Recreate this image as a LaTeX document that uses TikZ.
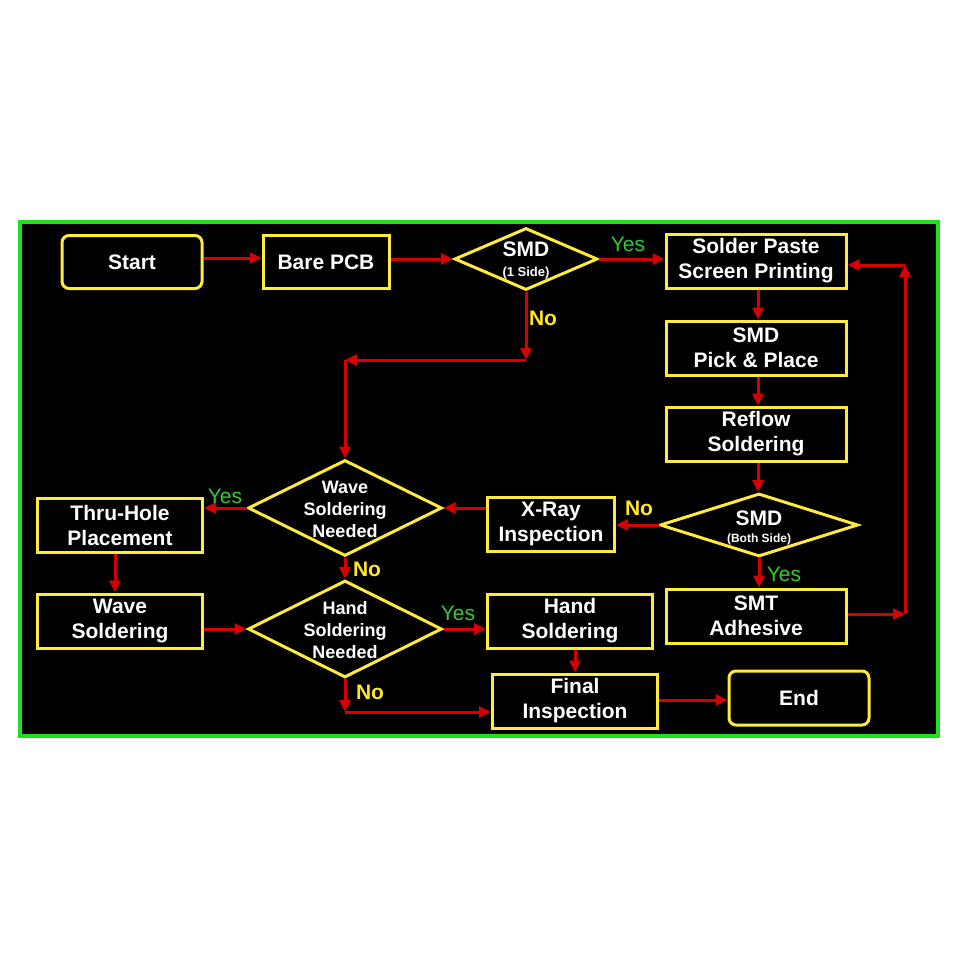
\documentclass[tikz,border=0pt]{standalone}
\usepackage{fontspec}
\setmainfont{Liberation Sans}
\usetikzlibrary{arrows.meta,shapes.geometric}
\definecolor{frameg}{RGB}{30,225,30}
\definecolor{boxy}{RGB}{255,235,60}
\definecolor{arrr}{RGB}{215,0,0}
\definecolor{yesg}{RGB}{50,205,50}
\definecolor{noy}{RGB}{255,230,40}
\tikzset{
  box/.style={draw=boxy, line width=3pt, fill=black, text=white, font=\fontsize{21}{25}\selectfont\bfseries, align=center, inner sep=0pt},
  rbox/.style={box, rounded corners=7pt},
  dia/.style={draw=boxy, line width=3pt, fill=black, diamond, inner sep=0pt},
  dtext/.style={text=white, font=\fontsize{18}{22}\selectfont\bfseries, align=center, inner sep=0pt},
  conn/.style={draw=arrr, line width=3pt, -{Triangle[length=12pt,width=11pt]}},
  yeslab/.style={text=yesg, font=\fontsize{21}{25}\selectfont, inner sep=0pt},
  nolab/.style={text=noy, font=\fontsize{21}{25}\selectfont\bfseries, inner sep=0pt}
}
\begin{document}
\begin{tikzpicture}[x=1pt,y=-1pt]
\useasboundingbox (0,0) rectangle (960,960);
\fill[white] (0,0) rectangle (960,960);
\draw[frameg, line width=4pt, fill=black] (20,222) rectangle (938,736);
% nodes
\node[rbox, minimum width=140pt, minimum height=53pt] (start) at (132,262) {Start};
\node[box, minimum width=126pt, minimum height=53pt] (bare) at (326,262) {Bare PCB};
\node[dia, minimum width=143pt, minimum height=62pt] (smd1) at (526,259) {};
\node[text=white, font=\fontsize{21}{25}\selectfont\bfseries, inner sep=0pt] (smd1t) at (526,249) {SMD};
\node[text=white, font=\fontsize{13}{15}\selectfont\bfseries, inner sep=0pt] (smd1s) at (526,273) {(1 Side)};
\node[box, minimum width=180pt, minimum height=54pt] (solder) at (756,261) {Solder Paste\\Screen Printing};
\node[box, minimum width=180pt, minimum height=54pt] (pick) at (756,348) {SMD\\Pick \& Place};
\node[box, minimum width=180pt, minimum height=54pt] (reflow) at (756,434) {Reflow\\Soldering};
\node[dia, minimum width=198pt, minimum height=63pt] (smd2) at (759,525) {};
\node[text=white, font=\fontsize{21}{25}\selectfont\bfseries, inner sep=0pt] (smd2t) at (759,518) {SMD};
\node[text=white, font=\fontsize{12}{14}\selectfont\bfseries, inner sep=0pt] (smd2s) at (759,539) {(Both Side)};
\node[box, minimum width=127pt, minimum height=54pt] (xray) at (551,524) {X-Ray\\Inspection};
\node[dia, minimum width=194pt, minimum height=96pt] (wsn) at (345,508) {};
\node[dtext] (wsnt) at (345,509) {Wave\\Soldering\\Needed};
\node[box, minimum width=165pt, minimum height=54pt] (thru) at (120,525) {Thru-Hole\\Placement};
\node[box, minimum width=165pt, minimum height=54pt] (wave) at (120,621) {Wave\\Soldering};
\node[dia, minimum width=194pt, minimum height=97pt] (hsn) at (345,629) {};
\node[dtext] (hsnt) at (345,630) {Hand\\Soldering\\Needed};
\node[box, minimum width=165pt, minimum height=54pt] (hand) at (570,621) {Hand\\Soldering};
\node[box, minimum width=180pt, minimum height=54pt] (smt) at (756,616) {SMT\\Adhesive};
\node[box, minimum width=165pt, minimum height=54pt] (final) at (575,701) {Final\\Inspection};
\node[rbox, minimum width=140pt, minimum height=54pt] (end) at (799,698) {End};
% coordinates
\coordinate (c1) at (345,712);
\coordinate (c2) at (905,614);
\coordinate (c3) at (905,265);
\coordinate (c4) at (526,360);
\coordinate (c5) at (345,360);
% connectors
\draw[conn] ([yshift=4pt]start.east) -- ([yshift=4pt]bare.west);
\draw[conn] ([yshift=3pt]bare.east) -- (smd1.west);
\draw[conn] (smd1.east) -- (solder.west |- smd1.east);
\draw[conn] ([xshift=2pt]solder.south) -- ([xshift=2pt]pick.north);
\draw[conn] ([xshift=2pt]pick.south) -- ([xshift=2pt]reflow.north);
\draw[conn] ([xshift=2pt]reflow.south) -- ([xshift=-1pt]smd2.north);
\draw[conn] (smd2.west) -- (xray.east |- smd2.west);
\draw[conn] (xray.west |- wsn.east) -- (wsn.east);
\draw[conn] (wsn.west) -- (thru.east |- wsn.west);
\draw[conn] ([xshift=-5pt]thru.south) -- ([xshift=-5pt]wave.north);
\draw[conn] ([yshift=-8pt]wave.east) -- (hsn.west);
\draw[conn] (wsn.south) -- (hsn.north);
\draw[conn] (hsn.east) -- (hand.west |- hsn.east);
\draw[conn] ([xshift=5pt]hand.south) -- ([xshift=5pt]hand.south |- final.north);
\draw[conn] (hsn.south) -- (c1);
\draw[conn] (c1) -- (final.west |- c1);
\draw[conn] ([yshift=1pt]final.east) -- (end.west |- 0,700);
\draw[conn] (smd2.south) -- (smd2.south |- smt.north);
\draw[conn] (smt.east |- c2) -- (c2);
\draw[conn] (c2) -- (c3);
\draw[conn] (c3) -- (solder.east |- c3);
\draw[conn] (smd1.south) -- (c4);
\draw[conn] (c4) -- (c5);
\draw[conn] (c5) -- (wsn.north);
% labels
\node[yeslab] (l1) at (628,244) {Yes};
\node[nolab] (l2) at (543,318) {No};
\node[nolab] (l3) at (639,508) {No};
\node[yeslab] (l4) at (784,574) {Yes};
\node[yeslab] (l5) at (225,496) {Yes};
\node[nolab] (l6) at (367,569) {No};
\node[yeslab] (l7) at (458,613) {Yes};
\node[nolab] (l8) at (370,692) {No};
\end{tikzpicture}
\end{document}
